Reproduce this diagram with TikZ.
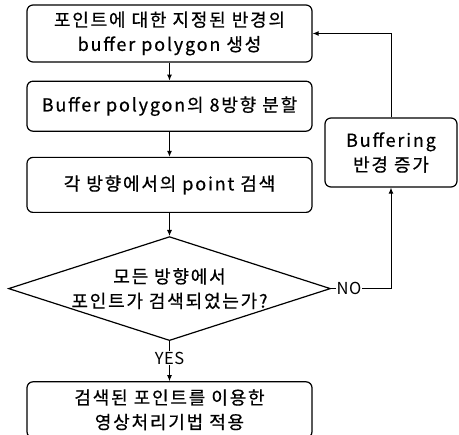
\documentclass[tikz,border=0pt]{standalone}
\usepackage{fontspec}
\setmainfont{Noto Sans CJK KR}
\newfontfamily\bfFigFace{Noto Sans CJK KR}[LetterSpace=10,FakeBold=0.6]
\newfontfamily\bfLblFace{Noto Sans CJK KR}[LetterSpace=3]
\usepackage{tikz}
\usetikzlibrary{arrows.meta,positioning,shapes.geometric}
\newcommand{\bfFigMain}{\bfFigFace\fontsize{18}{24.5}\selectfont}
\newcommand{\bfFigLbl}{\bfLblFace\fontsize{16.5}{18}\selectfont}
\tikzset{
  %% process steps of the search loop
  bfbox/.style={
    rounded corners=6pt, draw=black, line width=1.2pt, fill=white,
    inner sep=2pt, align=center, font=\bfFigMain,
    minimum width=285pt, text width=280pt},
  %% the single test in the loop; its text sits on top as a label so the
  %% outline keeps the reference proportions
  bfdecision/.style={
    diamond, draw=black, line width=1.2pt, fill=white,
    inner sep=0pt, minimum width=322pt, minimum height=104pt},
  bfflow/.style={-{Latex[length=6pt,width=5pt]}, draw=black,
    line width=1pt},
  bflbl/.style={font=\bfFigLbl, inner sep=1pt, fill=white, text=black},
}

\begin{document}
\begin{tikzpicture}
\useasboundingbox (0pt,0pt) rectangle (459pt,-435pt);

%% --- main column -------------------------------------------------
\node[bfbox, minimum height=57pt] (make) at (169.5pt,-33.5pt)
  {포인트에 대한 지정된 반경의\\buffer polygon 생성};

\node[bfbox, minimum height=50pt, below=18pt of make] (split)
  {Buffer polygon의 8방향 분할};

\node[bfbox, minimum height=55pt, below=25pt of split] (search)
  {각 방향에서의 point 검색};

\node[bfdecision, below=23pt of search,
      label={[font=\bfFigMain, align=center]center:%
        모든 방향에서\\포인트가 검색되었는가?}] (found) {};

\node[bfbox, minimum height=56pt, below=40pt of found] (apply)
  {검색된 포인트를 이용한\\영상처리기법 적용};

\draw[bfflow] (make)   -- (split);
\draw[bfflow] (split)  -- (search);
\draw[bfflow] (search) -- (found);
\draw[bfflow] (found)  -- node[bflbl, pos=0.42]{YES} (apply);

%% --- loop back (right) -------------------------------------------
\node[bfbox, minimum width=132pt, text width=128pt, minimum height=69pt]
  (grow) at (391pt,-152.5pt) {Buffering\\반경 증가};

\draw[bfflow] (found.east) -| node[bflbl, pos=0.15]{NO} (grow.south);
\draw[bfflow] (grow.north) |- (make.east);

\end{tikzpicture}
\end{document}
